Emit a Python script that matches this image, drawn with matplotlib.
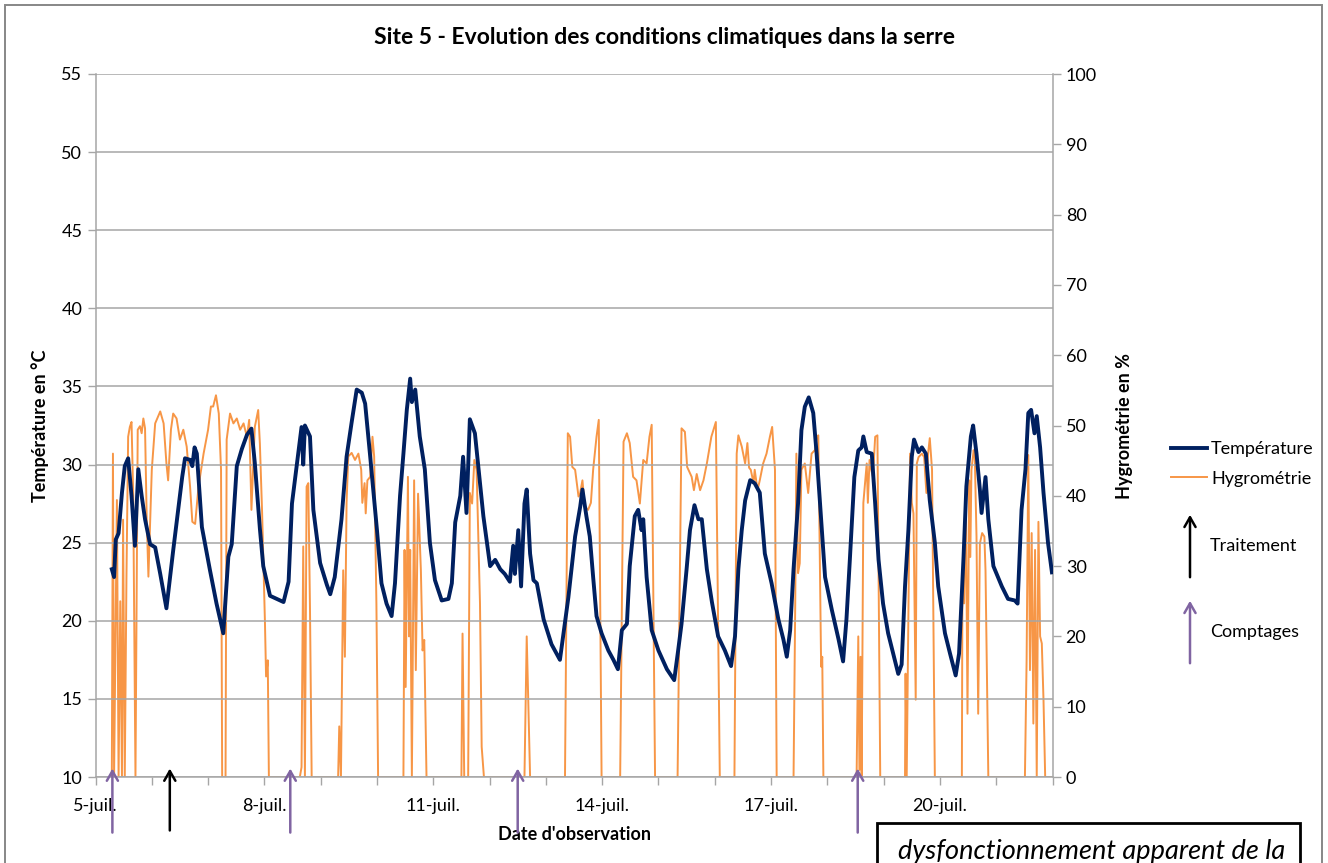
import matplotlib
matplotlib.use("Agg")
import matplotlib.pyplot as plt
from matplotlib.patches import Rectangle

plt.rcParams['font.family'] = ['Lato', 'DejaVu Sans']

# temps en jours depuis le 5 juillet 00:00
temp_jours = [0.29, 0.33, 0.36, 0.41, 0.47, 0.52, 0.58, 0.64, 0.70, 0.76, 0.82, 0.88, 0.97,
              1.06, 1.15, 1.26, 1.38, 1.50, 1.54, 1.59, 1.68, 1.72, 1.76, 1.80, 1.89, 2.03,
              2.15, 2.27, 2.36, 2.42, 2.51, 2.60, 2.69, 2.77, 2.83, 2.92, 2.98, 3.10, 3.22,
              3.34, 3.43, 3.49, 3.57, 3.66, 3.69, 3.72, 3.81, 3.87, 3.99, 4.11, 4.17, 4.25,
              4.37, 4.46, 4.55, 4.64, 4.73, 4.79, 4.88, 5.00, 5.08, 5.17, 5.26, 5.32, 5.41,
              5.47, 5.53, 5.59, 5.62, 5.68, 5.76, 5.85, 5.94, 6.03, 6.15, 6.27, 6.33, 6.39,
              6.48, 6.53, 6.59, 6.65, 6.74, 6.80, 6.89, 7.01, 7.10, 7.19, 7.27, 7.36, 7.42,
              7.45, 7.51, 7.56, 7.62, 7.66, 7.72, 7.78, 7.84, 7.96, 8.10, 8.25, 8.40, 8.52,
              8.61, 8.65, 8.72, 8.78, 8.84, 8.90, 8.99, 9.11, 9.20, 9.28, 9.35, 9.44, 9.49,
              9.58, 9.64, 9.70, 9.73, 9.79, 9.88, 10.00, 10.15, 10.28, 10.35, 10.41, 10.50,
              10.56, 10.64, 10.71, 10.77, 10.86, 10.95, 11.06, 11.18, 11.29, 11.36, 11.42,
              11.48, 11.54, 11.63, 11.71, 11.80, 11.89, 12.01, 12.13, 12.22, 12.28, 12.34,
              12.40, 12.48, 12.54, 12.60, 12.67, 12.75, 12.81, 12.87, 12.96, 13.08, 13.20,
              13.28, 13.34, 13.40, 13.48, 13.55, 13.61, 13.64, 13.70, 13.79, 13.85, 13.91,
              13.99, 14.08, 14.17, 14.26, 14.32, 14.38, 14.44, 14.50, 14.54, 14.62, 14.68,
              14.75, 14.82, 14.91, 14.97, 15.09, 15.18, 15.28, 15.34, 15.42, 15.47, 15.55,
              15.59, 15.65, 15.71, 15.74, 15.81, 15.86, 15.95, 16.10, 16.21, 16.33, 16.38,
              16.45, 16.52, 16.57, 16.62, 16.68, 16.72, 16.78, 16.84, 16.92, 16.99]
temperature = [23.3, 22.8, 25.2, 25.6, 28.2, 29.9, 30.4, 28.0, 24.8, 29.7, 28.0, 26.5, 24.9,
               24.7, 23.0, 20.8, 24.5, 28.0, 29.2, 30.4, 30.3, 29.9, 31.1, 30.7, 26.0, 23.3,
               21.1, 19.2, 24.1, 24.9, 29.9, 31.0, 31.9, 32.3, 30.1, 25.9, 23.5, 21.6, 21.4,
               21.2, 22.5, 27.5, 29.8, 32.4, 30.0, 32.5, 31.8, 27.1, 23.7, 22.3, 21.7, 22.8,
               26.5, 30.5, 32.7, 34.8, 34.6, 33.9, 30.5, 25.8, 22.4, 21.1, 20.3, 22.4, 28.0,
               30.7, 33.5, 35.5, 34.0, 34.8, 31.8, 29.7, 25.0, 22.6, 21.3, 21.4, 22.4, 26.3,
               28.0, 30.5, 26.9, 32.9, 32.0, 29.9, 26.7, 23.5, 23.9, 23.3, 23.0, 22.5, 24.8,
               23.0, 25.8, 22.2, 27.5, 28.4, 24.3, 22.6, 22.4, 20.1, 18.5, 17.5, 21.5, 25.4,
               27.3, 28.4, 26.7, 25.4, 22.8, 20.3, 19.2, 18.1, 17.5, 16.9, 19.4, 19.8, 23.5,
               26.7, 27.1, 25.8, 26.5, 22.8, 19.4, 18.1, 16.9, 16.2, 18.1, 19.8, 23.3,
               25.8, 27.4, 26.5, 26.5, 23.3, 21.2, 19.0, 18.1, 17.1, 19.0, 23.3,
               25.8, 27.7, 29.0, 28.8, 28.2, 24.3, 22.4, 20.1, 18.8, 17.7, 19.4,
               23.3, 27.5, 32.2, 33.7, 34.3, 33.3, 30.7, 27.5, 22.8, 20.7, 18.8,
               17.4, 20.1, 23.9, 29.2, 30.9, 31.1, 31.8, 30.8, 30.7, 27.5, 23.9,
               21.1, 19.2, 17.9, 16.6, 17.2, 22.2, 25.8, 30.5, 31.6, 30.8, 31.1,
               30.7, 27.7, 25.0, 22.2, 19.2, 17.9, 16.5, 17.9, 24.1, 28.6, 31.8,
               32.5, 30.7, 28.4, 26.9, 29.2, 26.5, 23.5, 22.2, 21.4, 21.3, 21.1,
               27.1, 29.7, 33.3, 33.5, 32.0, 33.1, 31.1, 28.2, 25.0, 23.1]

hygro_jours = [0.29, 0.31, 0.33, 0.38, 0.41, 0.44, 0.47, 0.49, 0.52, 0.55, 0.58, 0.61, 0.64,
               0.67, 0.71, 0.75, 0.79, 0.82, 0.85, 0.88, 0.91, 0.94, 1.00, 1.06, 1.15, 1.21,
               1.26, 1.29, 1.34, 1.38, 1.44, 1.50, 1.56, 1.62, 1.68, 1.72, 1.77, 1.83, 1.92,
               2.00, 2.05, 2.09, 2.14, 2.19, 2.23, 2.25, 2.31, 2.33, 2.39, 2.45, 2.51, 2.57,
               2.63, 2.69, 2.73, 2.77, 2.83, 2.89, 2.92, 2.96, 3.01, 3.03, 3.06, 3.08, 3.63,
               3.66, 3.69, 3.72, 3.75, 3.78, 3.81, 3.84, 4.31, 4.33, 4.36, 4.40, 4.43, 4.46,
               4.49, 4.55, 4.61, 4.67, 4.72, 4.74, 4.78, 4.80, 4.83, 4.88, 4.92, 4.95, 4.99,
               5.02, 5.47, 5.49, 5.51, 5.55, 5.57, 5.59, 5.62, 5.66, 5.69, 5.73, 5.78, 5.81,
               5.84, 5.88, 6.50, 6.52, 6.55, 6.62, 6.65, 6.69, 6.73, 6.77, 6.83, 6.86, 6.90,
               7.62, 7.66, 7.72, 8.34, 8.39, 8.43, 8.47, 8.52, 8.58, 8.61, 8.65, 8.69, 8.75,
               8.80, 8.84, 8.90, 8.94, 8.99, 9.32, 9.38, 9.44, 9.49, 9.55, 9.61, 9.67, 9.73,
               9.79, 9.84, 9.88, 9.94, 10.34, 10.41, 10.47, 10.51, 10.59, 10.63, 10.68, 10.74,
               10.80, 10.86, 10.94, 11.02, 11.09, 11.35, 11.39, 11.42, 11.48, 11.54, 11.58,
               11.61, 11.64, 11.69, 11.71, 11.76, 11.80, 11.86, 11.92, 11.98, 12.02, 12.07,
               12.10, 12.40, 12.43, 12.45, 12.48, 12.51, 12.54, 12.60, 12.66, 12.72, 12.78,
               12.81, 12.84, 12.89, 12.91, 12.93, 13.52, 13.55, 13.57, 13.59, 13.61, 13.64,
               13.70, 13.72, 13.75, 13.78, 13.81, 13.85, 13.89, 13.94, 14.38, 14.39, 14.41,
               14.47, 14.50, 14.53, 14.57, 14.59, 14.62, 14.68, 14.72, 14.76, 14.79, 14.82,
               14.86, 14.91, 15.39, 15.40, 15.43, 15.46, 15.49, 15.52, 15.54, 15.56, 15.60,
               15.62, 15.65, 15.68, 15.71, 15.75, 15.79, 15.81, 15.86, 16.51, 16.54, 16.57,
               16.60, 16.63, 16.66, 16.69, 16.72, 16.75, 16.78, 16.81, 16.84, 16.87, 16.99]
hygrometrie = [0, 46.0, 0, 39.4, 0, 25.0, 0, 36.6, 0, 28.5, 48.4, 49.8, 50.5,
               40.0, 0, 49.4, 49.9, 48.9, 51.0, 49.6, 36.6, 28.5, 43.7, 50.3, 52.0, 50.3,
               44.6, 42.2, 49.4, 51.7, 51.0, 48.0, 49.4, 47.0, 41.3, 36.3, 36.0, 41.3, 46.0,
               49.4, 52.7, 52.7, 54.3, 51.7, 43.7, 0, 0, 48.0, 51.7, 50.3, 51.0, 49.4,
               50.3, 48.4, 50.8, 38.0, 49.8, 52.2, 47.4, 37.5, 22.0, 14.3, 16.6, 0, 0,
               1.4, 32.8, 0, 41.3, 41.8, 24.0, 0, 0, 7.2, 0, 29.4, 17.1, 39.0,
               45.6, 46.1, 45.1, 46.0, 43.7, 39.0, 41.8, 37.5, 42.2, 42.7, 48.4, 45.6, 24.7,
               0, 0, 32.3, 12.8, 42.7, 20.0, 32.3, 0, 42.2, 15.2, 40.3, 29.4, 18.0,
               19.5, 0, 0, 20.4, 0, 0, 40.4, 38.9, 45.1, 43.7, 24.7, 4.3, 0,
               0, 20.0, 0, 0, 48.9, 48.4, 44.1, 43.7, 39.9, 40.4, 42.2, 38.5, 38.0,
               39.0, 43.7, 48.4, 50.8, 0, 0, 47.7, 48.9, 47.5, 42.7, 42.2, 38.9, 45.1,
               44.6, 48.4, 50.1, 0, 0, 49.6, 49.1, 44.1, 42.7, 40.8, 43.1, 40.8,
               42.2, 44.6, 48.4, 50.5, 0, 0, 46.0, 48.6, 47.0, 44.6, 47.5,
               44.0, 43.7, 41.8, 43.7, 40.8, 42.2, 44.6, 46.0, 48.4, 49.8, 43.7,
               0, 0, 24.7, 46.0, 29.0, 30.4, 43.7, 44.6, 40.4, 46.0, 46.5,
               48.4, 48.6, 15.7, 17.1, 0, 0, 20.0, 1.0, 17.1, 0, 39.0,
               44.6, 39.0, 45.1, 43.7, 42.7, 48.4, 48.6, 0, 0, 14.7, 0,
               46.0, 39.0, 37.5, 11.0, 44.6, 45.5, 46.0, 45.5, 40.4, 46.0, 48.2,
               43.7, 0, 0, 28.5, 24.7, 41.0, 9.0, 42.2, 31.3, 43.7, 46.5,
               45.5, 34.2, 9.0, 33.2, 34.7, 34.2, 29.4, 0, 0, 16.6, 45.8,
               15.2, 34.7, 7.6, 32.3, 0, 36.3, 20.0, 19.0, 11.0, 0, 0]

# dates des interventions (jours depuis le 5 juillet)
comptages = [0.30, 3.46, 7.50, 13.54]
traitements = [1.32]

jours_ticks = list(range(0, 18))
etiquettes = {0: '5-juil.', 3: '8-juil.', 6: '11-juil.', 9: '14-juil.', 12: '17-juil.', 15: '20-juil.'}

bleu = '#002060'
orange = '#F79646'
violet = '#8064A2'
gris = '#A6A6A6'
fleche = '->,head_length=0.7,head_width=0.4'

W, H = 1328, 863
fig = plt.figure(figsize=(W / 100, H / 100), dpi=100)
ax = fig.add_axes([95.5 / W, 1 - 777 / H, 957 / W, 703 / H])
ax2 = ax.twinx()

l1, = ax.plot(temp_jours, temperature, color=bleu, lw=2.8, zorder=3, label='Température')
l2, = ax2.plot(hygro_jours, hygrometrie, color=orange, lw=1.4, label='Hygrométrie')
ax.set_zorder(ax2.get_zorder() + 1)
ax.patch.set_visible(False)

ax.set_xlim(0, 17)
ax.set_ylim(10, 55)
ax2.set_ylim(0, 100)
ax.set_yticks(range(10, 56, 5))
ax2.set_yticks(range(0, 101, 10))
ax.set_xticks(jours_ticks)
ax.set_xticklabels([etiquettes.get(j, '') for j in jours_ticks])
ax.grid(axis='y', color=gris, lw=1.1)
ax.set_axisbelow(True)

for a in (ax, ax2):
    for s in a.spines.values():
        s.set_visible(False)
    a.tick_params(colors=gris, labelcolor='black', labelsize=13, length=6, width=1)
ax.spines['left'].set_visible(True)
ax.spines['bottom'].set_visible(True)
ax2.spines['right'].set_visible(True)
for s in (ax.spines['left'], ax.spines['bottom'], ax2.spines['right']):
    s.set_color(gris)
    s.set_linewidth(1.1)
ax.tick_params(axis='x', pad=9)

ax.set_ylabel('Température en °C', fontsize=13, fontweight='bold', labelpad=9)
ax2.set_ylabel('Hygrométrie en %', fontsize=13, fontweight='bold', labelpad=14)
ax.set_xlabel("Date d'observation", fontsize=13, fontweight='bold', labelpad=9)
fig.text(0.5, 1 - 37 / H, 'Site 5 - Evolution des conditions climatiques dans la serre',
         ha='center', va='center', fontsize=16.5, fontweight='bold')

# flèches sous l'axe des dates
tr = ax.get_xaxis_transform()
for j in comptages:
    ax.annotate('', xy=(j, 0.016), xytext=(j, -0.083), xycoords=tr, textcoords=tr,
                arrowprops=dict(arrowstyle=fleche, color=violet, lw=1.8),
                annotation_clip=False)
for j in traitements:
    ax.annotate('', xy=(j, 0.016), xytext=(j, -0.080), xycoords=tr, textcoords=tr,
                arrowprops=dict(arrowstyle=fleche, color='black', lw=1.8),
                annotation_clip=False)

# légende
fig.legend(handles=[l1, l2], loc='upper left', bbox_to_anchor=(1155 / W, 1 - 425 / H),
           frameon=False, fontsize=13, handlelength=2.0, handletextpad=0.2,
           labelspacing=0.75)
ftr = fig.transFigure
for y0, y1, c, txt in [(580, 512, 'black', 'Traitement'), (666, 598, violet, 'Comptages')]:
    fig.add_artist(plt.Annotation('', xy=(1190 / W, 1 - y1 / H), xytext=(1190 / W, 1 - y0 / H),
                                  xycoords=ftr, textcoords=ftr,
                                  arrowprops=dict(arrowstyle=fleche, color=c, lw=1.8)))
    fig.text(1210 / W, 1 - (y0 + y1) / 2 / H, txt, fontsize=13, va='center')

# cadre du graphique
fig.add_artist(Rectangle((5 / W, -0.1), 1317 / W, 1.1 - 5 / H, transform=ftr,
                         fill=False, ec='#878787', lw=1.4))
# encadré de commentaire
fig.add_artist(Rectangle((877 / W, -0.1), 423 / W, 0.1 + (863 - 823) / H, transform=ftr,
                         fill=False, ec='black', lw=2))
fig.text(898 / W, 1 - 859 / H, 'dysfonctionnement apparent de la', fontsize=19.5,
         style='italic', va='baseline')

fig.savefig('out.png', dpi=100)
